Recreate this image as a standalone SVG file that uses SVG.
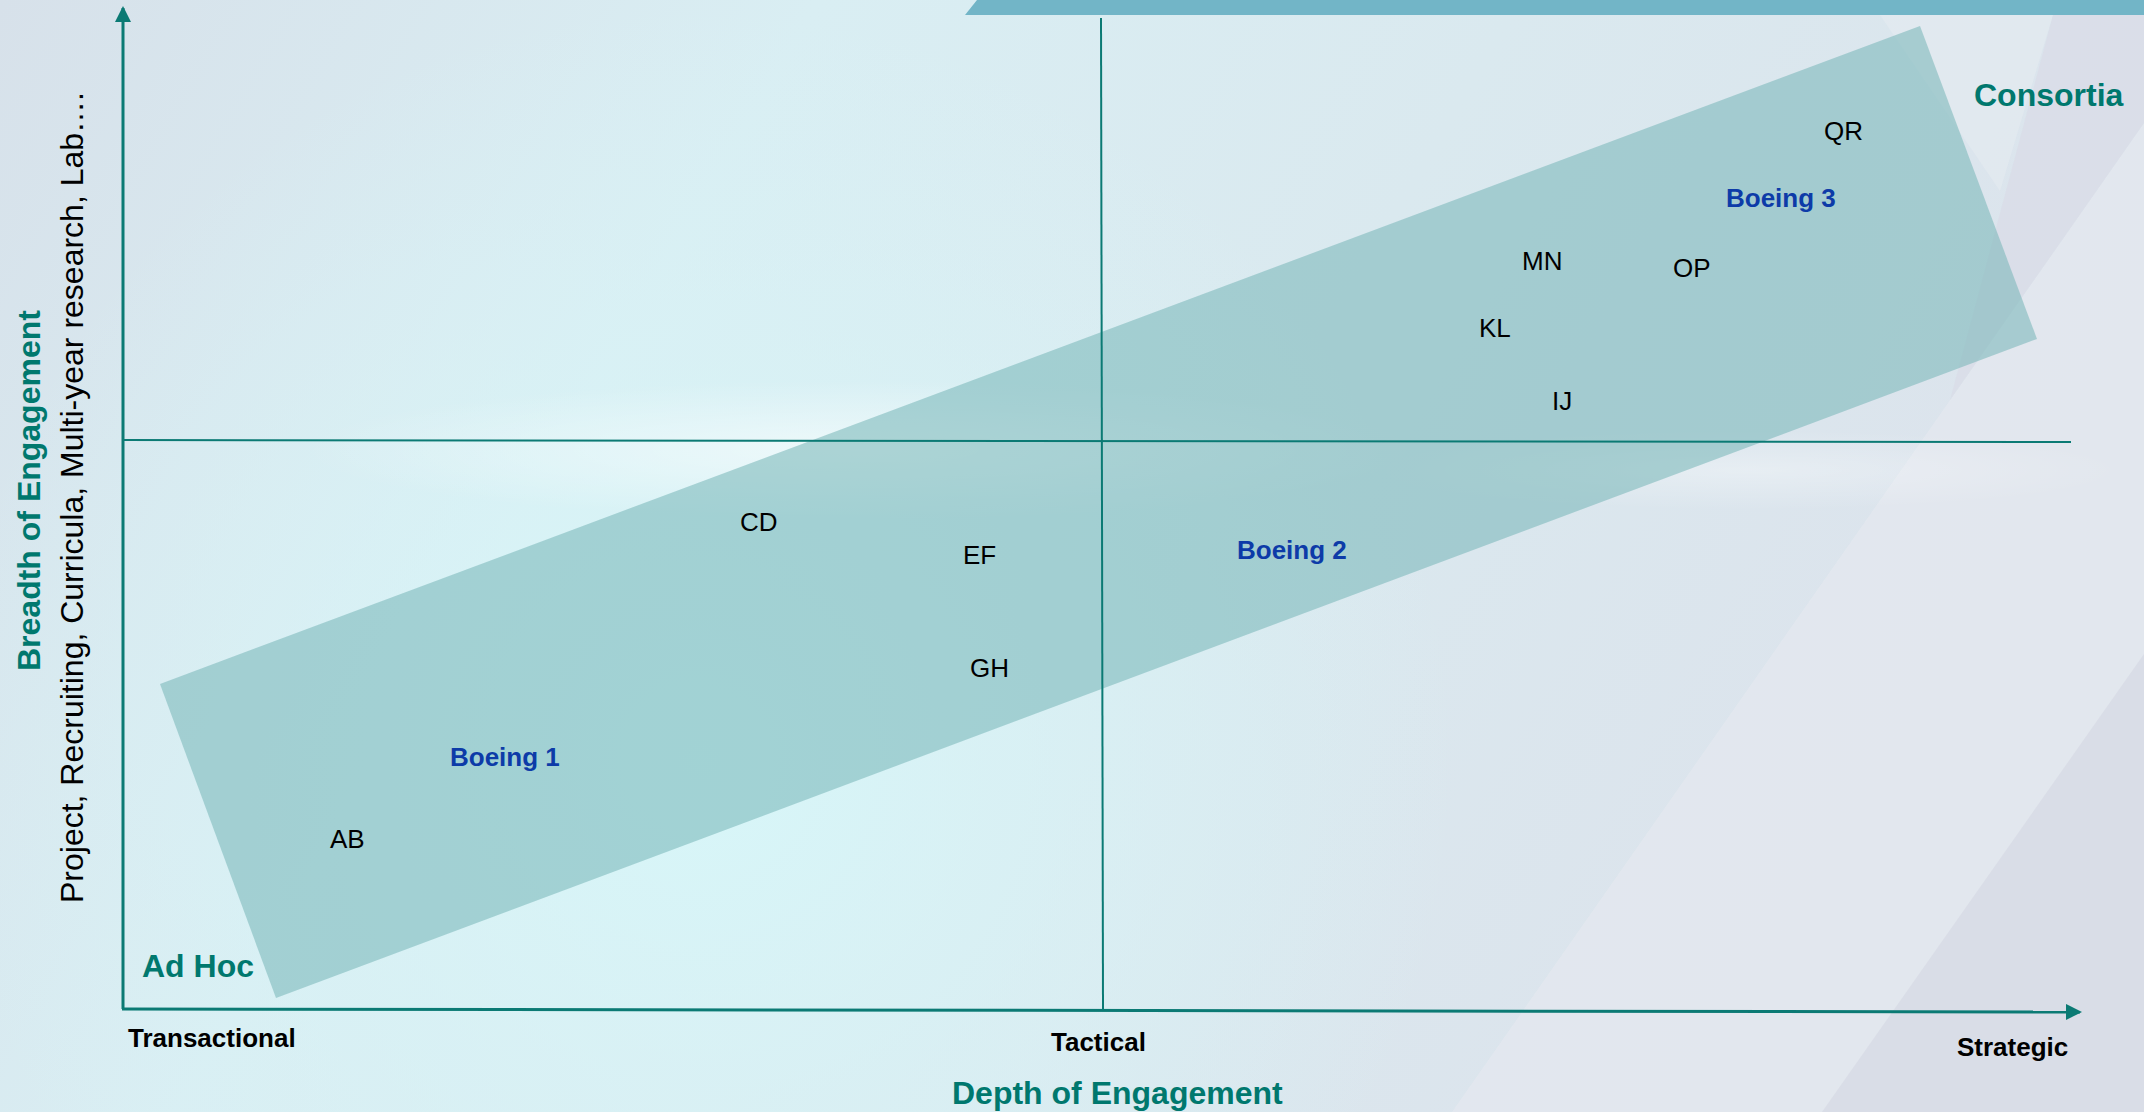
<svg xmlns="http://www.w3.org/2000/svg" width="2144" height="1112" viewBox="0 0 2144 1112">
  <defs>
    <linearGradient id="bgBase" x1="0" y1="0" x2="1" y2="0.3">
      <stop offset="0" stop-color="#d7e1ea"/>
      <stop offset="0.35" stop-color="#d9eef3"/>
      <stop offset="0.65" stop-color="#dae9ef"/>
      <stop offset="1" stop-color="#dce3ec"/>
    </linearGradient>
    <radialGradient id="cyanGlow" cx="700" cy="760" r="760" gradientUnits="userSpaceOnUse">
      <stop offset="0" stop-color="#d7f7f9" stop-opacity="0.95"/>
      <stop offset="0.6" stop-color="#d8f3f6" stop-opacity="0.5"/>
      <stop offset="1" stop-color="#d8f3f6" stop-opacity="0"/>
    </radialGradient>
    <radialGradient id="glare" cx="0.5" cy="0.5" r="0.5">
      <stop offset="0" stop-color="#ffffff" stop-opacity="0.55"/>
      <stop offset="1" stop-color="#ffffff" stop-opacity="0"/>
    </radialGradient>
    <marker id="arrow" viewBox="0 0 16 16" refX="14" refY="8" markerWidth="16" markerHeight="16" markerUnits="userSpaceOnUse" orient="auto">
      <path d="M0,0 L16,8 L0,16 Z" fill="#0b7a74"/>
    </marker>
    <style>
      .axis { stroke: #0b7a74; stroke-width: 3; fill: none; }
      .grid { stroke: #0b7a74; stroke-width: 2; fill: none; }
      .tick { font-family: "Liberation Sans", Arial, sans-serif; font-size: 26px; font-weight: bold; fill: #000000; }
      .item { font-family: "Liberation Sans", Arial, sans-serif; font-size: 26px; fill: #000000; }
      .boeing { font-family: "Liberation Sans", Arial, sans-serif; font-size: 26px; font-weight: bold; fill: #0d3ba8; }
      .zone { font-family: "Liberation Sans", Arial, sans-serif; font-size: 32px; font-weight: bold; fill: #00786e; }
      .sub { font-family: "Liberation Sans", Arial, sans-serif; font-size: 32px; fill: #000000; }
    </style>
  </defs>

  <!-- backdrop with soft light beams -->
  <rect x="0" y="0" width="2144" height="1112" fill="url(#bgBase)"/>
  <rect x="0" y="0" width="2144" height="1112" fill="url(#cyanGlow)"/>
  <polygon points="2144,123 2144,1112 1452,1112" fill="#e3e7ef" opacity="0.85"/>
  <polygon points="2144,654 2144,1112 1822,1112" fill="#d8dbe6" opacity="0.9"/>
  <polygon points="2053,15 2144,15 2144,123 1950,400" fill="#d9dde7" opacity="0.85"/>
  <polygon points="1880,15 2053,15 2000,191" fill="#eef1f5" opacity="0.3"/>
  <ellipse cx="860" cy="450" rx="560" ry="70" fill="url(#glare)"/>
  <ellipse cx="1750" cy="470" rx="380" ry="40" fill="url(#glare)" opacity="0.6"/>

  <!-- header strip -->
  <polygon points="977,0 2144,0 2144,15 965,15" fill="#72b5c7"/>

  <!-- engagement band -->
  <polygon id="band" points="160,684 1920,26 2037,339 276,998" fill="#78b6b8" opacity="0.56"/>

  <!-- axes and quadrant dividers -->
  <g id="connectors">
    <line class="axis" x1="123" y1="1009" x2="123" y2="8" marker-end="url(#arrow)"/>
    <line class="axis" x1="122" y1="1009" x2="2080" y2="1012" marker-end="url(#arrow)"/>
    <line class="grid" x1="1101" y1="18" x2="1103" y2="1009"/>
    <line class="grid" x1="123" y1="440" x2="2071" y2="442"/>
  </g>

  <!-- axis titles -->
  <g id="y-title">
    <text class="zone" transform="translate(40,671) rotate(-90)">Breadth of Engagement</text>
  </g>
  <g id="y-subtitle">
    <text class="sub" transform="translate(83,903) rotate(-90)">Project, Recruiting, Curricula, Multi-year research, Lab….</text>
  </g>
  <g id="x-title">
    <text class="zone" x="952" y="1104">Depth of Engagement</text>
  </g>

  <!-- x-axis scale -->
  <g id="tick-transactional"><text class="tick" x="128" y="1047">Transactional</text></g>
  <g id="tick-tactical"><text class="tick" x="1051" y="1051">Tactical</text></g>
  <g id="tick-strategic"><text class="tick" x="1957" y="1056">Strategic</text></g>

  <!-- zone labels -->
  <g id="zone-adhoc"><text class="zone" x="142" y="977">Ad Hoc</text></g>
  <g id="zone-consortia"><text class="zone" x="1974" y="106">Consortia</text></g>

  <!-- Boeing markers -->
  <g id="boeing-1"><text class="boeing" x="450" y="766">Boeing 1</text></g>
  <g id="boeing-2"><text class="boeing" x="1237" y="559">Boeing 2</text></g>
  <g id="boeing-3"><text class="boeing" x="1726" y="207">Boeing 3</text></g>

  <!-- partner points -->
  <g id="item-ab"><text class="item" x="330" y="848">AB</text></g>
  <g id="item-cd"><text class="item" x="740" y="531">CD</text></g>
  <g id="item-ef"><text class="item" x="963" y="564">EF</text></g>
  <g id="item-gh"><text class="item" x="970" y="677">GH</text></g>
  <g id="item-ij"><text class="item" x="1552" y="410">IJ</text></g>
  <g id="item-kl"><text class="item" x="1479" y="337">KL</text></g>
  <g id="item-mn"><text class="item" x="1522" y="270">MN</text></g>
  <g id="item-op"><text class="item" x="1673" y="277">OP</text></g>
  <g id="item-qr"><text class="item" x="1824" y="140">QR</text></g>
</svg>
